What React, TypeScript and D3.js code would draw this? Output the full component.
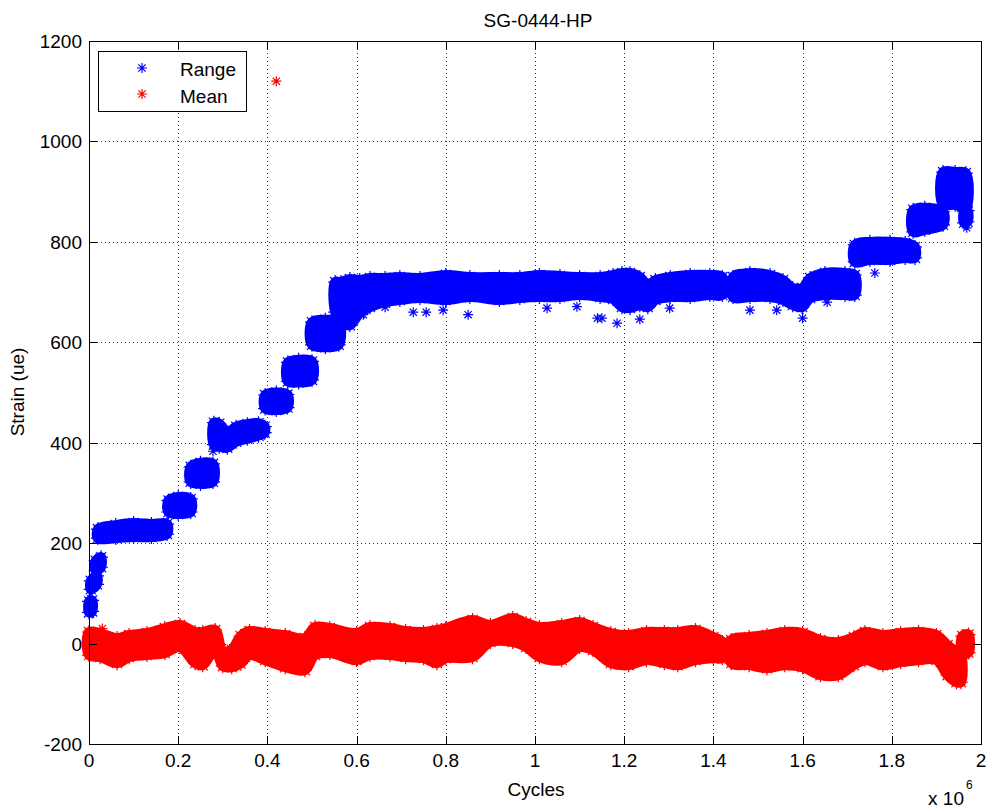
import React from 'react';
import * as d3 from 'd3';

// Range band (cycles in 1e6), marker-centre envelope; null = gap between blobs
const rangeCycles = [
  0.000, 0.007, null,
  0.004, 0.018, null,
  0.015, 0.027, null,
  0.020, 0.060, 0.100, 0.140, 0.175, null,
  0.178, 0.200, 0.228, null,
  0.228, 0.250, 0.278, null,
  0.280, 0.292, 0.310, 0.330, 0.355, 0.380, 0.394, null,
  0.395, 0.420, 0.445, null,
  0.446, 0.470, 0.500, null,
  0.500, 0.530, 0.560, null,
  0.552, 0.565, 0.585, 0.607, 0.630, 0.664, 0.697, 0.742, 0.800, 0.854, 0.920, 0.966, 1.010, 1.056, 1.100, 1.146, 1.175, 1.195, 1.213, 1.235, 1.253, 1.270, 1.303, 1.348, 1.392, 1.420, null,
  1.444, 1.482, 1.527, 1.556, 1.578, 1.599, 1.617, 1.650, 1.695, 1.717, null,
  1.717, 1.751, 1.796, 1.830, 1.852, null,
  1.848, 1.874, 1.915, null,
  1.915, 1.942, 1.966, null,
  1.962, 1.970
];
const rangeLow = [
  62, 64, null,
  108, 118, null,
  145, 152, null,
  210, 210, 212, 212, 218, null,
  262, 258, 262, null,
  322, 318, 322, null,
  396, 392, 390, 402, 408, 414, 420, null,
  468, 465, 470, null,
  522, 520, 525, null,
  595, 590, 595, null,
  660, 641, 634, 658, 670, 680, 684, 688, 684, 690, 684, 688, 690, 690, 694, 690, 686, 670, 668, 674, 670, 684, 690, 690, 694, 694, null,
  690, 690, 690, 684, 674, 670, 688, 694, 694, 694, null,
  760, 764, 764, 768, 768, null,
  820, 824, 834, null,
  874, 874, 868, null,
  838, 840
];
const rangeHigh = [
  84, 86, null,
  125, 135, null,
  165, 172, null,
  228, 236, 240, 238, 238, null,
  285, 292, 288, null,
  352, 360, 358, null,
  440, 438, 421, 432, 437, 439, 432, null,
  495, 500, 496, null,
  560, 565, 562, null,
  640, 645, 640, null,
  720, 720, 726, 724, 728, 728, 730, 728, 734, 730, 730, 730, 734, 732, 730, 730, 734, 738, 738, 730, 714, 724, 730, 734, 734, 730, null,
  730, 738, 734, 724, 708, 708, 728, 738, 738, 734, null,
  794, 800, 800, 798, 790, null,
  864, 868, 860, null,
  939, 939, 937, null,
  860, 862
];
const rangeOutCycles = [0.278, 0.615, 0.664, 0.727, 0.756, 0.794, 0.850, 1.027, 1.094, 1.140, 1.150, 1.184, 1.235, 1.302, 1.482, 1.542, 1.600, 1.655, 1.762, 1.968];
const rangeOutStrain = [383, 655, 670, 660, 660, 664, 655, 668, 671, 648, 648, 638, 646, 668, 664, 664, 648, 680, 738, 828];

// Mean band
const meanCycles = [
  0.000, 0.025, 0.063, 0.090, 0.130, 0.170, 0.204, 0.238, 0.255, 0.283,
  0.300, 0.320, 0.340, 0.360, 0.395, 0.440, 0.484, 0.507, 0.540, 0.600,
  0.630, 0.675, 0.710, 0.750, 0.780, 0.800, 0.860, 0.900, 0.950, 0.980,
  1.010, 1.060, 1.100, 1.130, 1.170, 1.210, 1.250, 1.290, 1.320, 1.360,
  1.400, 1.420, null,
  1.440, 1.480, 1.520, 1.560, 1.600, 1.640, 1.680, 1.715, 1.740, 1.780,
  1.820, 1.860, 1.900, 1.925, 1.945, 1.955, null,
  1.958, 1.972
];
const meanHigh = [
  23, 21, 11, 17, 21, 31, 37, 23, 23, 27,
  -15, -12, 15, 25, 21, 17, 11, 33, 31, 21,
  33, 31, 25, 23, 27, 31, 47, 37, 51, 41,
  33, 37, 43, 33, 21, 17, 23, 23, 23, 27,
  13, 3, null,
  7, 13, 17, 23, 21, 7, 3, 13, 23, 17,
  21, 23, 17, -3, -17, -23, null,
  15, 18
];
const meanLow = [
  -23, -27, -39, -27, -23, -19, -7, -39, -43, -13,
  -45, -47, -40, -23, -33, -47, -53, -23, -19, -33,
  -23, -23, -27, -29, -39, -29, -27, 3, 3, -7,
  -27, -33, -7, -13, -39, -43, -33, -39, -43, -33,
  -29, -29, null,
  -39, -43, -49, -43, -47, -63, -63, -43, -33, -43,
  -37, -33, -33, -63, -77, -77, null,
  -20, -18
];
const meanOutCycles = [0.030, 0.420];
const meanOutStrain = [30, 1120];

const xTicks = [0, 0.2, 0.4, 0.6, 0.8, 1, 1.2, 1.4, 1.6, 1.8, 2];
const yTicks = [-200, 0, 200, 400, 600, 800, 1000, 1200];

const W = 990;
const H = 809;
const plot = { left: 89, right: 981, top: 41, bottom: 744 };
const FONT = '"Liberation Sans", Arial, sans-serif';
const BLUE = '#0000ff';
const RED = '#ff0000';

const star = (x: number, y: number, r: number) => {
  const d = r * 0.72;
  return `M${x - r},${y}h${2 * r}M${x},${y - r}v${2 * r}M${x - d},${y - d}l${2 * d},${2 * d}M${x - d},${y + d}l${2 * d},${-2 * d}`;
};

// split parallel arrays into blobs at the null entries
const blobs = (cyc: any[], lo: any[], hi: any[]) => {
  const out: { c: number; lo: number; hi: number }[][] = [];
  let cur: { c: number; lo: number; hi: number }[] = [];
  cyc.forEach((c, i) => {
    if (c == null) {
      if (cur.length) out.push(cur);
      cur = [];
    } else cur.push({ c, lo: lo[i], hi: hi[i] });
  });
  if (cur.length) out.push(cur);
  return out;
};

const App = () => {
  const x = d3.scaleLinear().domain([0, 2]).range([plot.left, plot.right]);
  const y = d3.scaleLinear().domain([-200, 1200]).range([plot.bottom, plot.top]);

  // outline of a blob: upper edge left→right, lower edge right→left, closed smooth curve
  const outline = d3
    .line<[number, number]>()
    .x((d) => d[0])
    .y((d) => d[1])
    .curve(d3.curveCatmullRomClosed.alpha(0.5));

  const blobPath = (b: { c: number; lo: number; hi: number }[]) => {
    const top = b.map((d) => [x(d.c), y(d.hi)] as [number, number]);
    const bot = b.map((d) => [x(d.c), y(d.lo)] as [number, number]).reverse();
    return outline(top.concat(bot)) || '';
  };

  const series = [
    { name: 'Range', color: BLUE, parts: blobs(rangeCycles, rangeLow, rangeHigh), oc: rangeOutCycles, os: rangeOutStrain },
    { name: 'Mean', color: RED, parts: blobs(meanCycles, meanLow, meanHigh), oc: meanOutCycles, os: meanOutStrain },
  ];

  const edgeStars = (parts: any[][]) =>
    parts
      .flat()
      .map((d) => star(x(d.c), y(d.lo), 7) + star(x(d.c), y(d.hi), 7))
      .join('');

  return (
    <svg width={W} height={H} style={{ position: 'absolute', left: 0, top: 0, background: '#fff' }} fontFamily={FONT}>
      <rect x={0} y={0} width={W} height={H} fill="#fff" />

      {/* grid */}
      <g stroke="#333" strokeWidth={1} strokeDasharray="1,3">
        {xTicks.slice(1, -1).map((t) => (
          <line key={'gx' + t} x1={Math.round(x(t)) + 0.5} x2={Math.round(x(t)) + 0.5} y1={plot.top} y2={plot.bottom} />
        ))}
        {yTicks.slice(1, -1).map((t) => (
          <line key={'gy' + t} x1={plot.left} x2={plot.right} y1={Math.round(y(t)) + 0.5} y2={Math.round(y(t)) + 0.5} />
        ))}
      </g>

      {/* data */}
      {series.map((s) => (
        <g key={s.name}>
          {s.parts.map((b, i) => (
            <path key={i} d={blobPath(b)} fill={s.color} stroke={s.color} strokeWidth={10} strokeLinejoin="round" />
          ))}
          <path d={edgeStars(s.parts)} fill="none" stroke={s.color} strokeWidth={1.2} />
          <path d={s.oc.map((c, i) => star(x(c), y(s.os[i]), 5)).join('')} fill="none" stroke={s.color} strokeWidth={1.2} />
        </g>
      ))}

      {/* axes box + ticks */}
      <rect x={plot.left + 0.5} y={plot.top + 0.5} width={plot.right - plot.left} height={plot.bottom - plot.top} fill="none" stroke="#000" strokeWidth={1} />
      <g stroke="#000" strokeWidth={1}>
        {xTicks.map((t) => (
          <g key={'tx' + t}>
            <line x1={Math.round(x(t)) + 0.5} x2={Math.round(x(t)) + 0.5} y1={plot.bottom} y2={plot.bottom - 8} />
            <line x1={Math.round(x(t)) + 0.5} x2={Math.round(x(t)) + 0.5} y1={plot.top} y2={plot.top + 8} />
          </g>
        ))}
        {yTicks.map((t) => (
          <g key={'ty' + t}>
            <line x1={plot.left} x2={plot.left + 8} y1={Math.round(y(t)) + 0.5} y2={Math.round(y(t)) + 0.5} />
            <line x1={plot.right} x2={plot.right - 8} y1={Math.round(y(t)) + 0.5} y2={Math.round(y(t)) + 0.5} />
          </g>
        ))}
      </g>

      {/* tick labels */}
      <g fontSize={19} fill="#000">
        {xTicks.map((t) => (
          <text key={'lx' + t} x={x(t)} y={767} textAnchor="middle">{String(t)}</text>
        ))}
        {yTicks.map((t) => (
          <text key={'ly' + t} x={plot.left - 7} y={y(t) + 7} textAnchor="end">{String(t)}</text>
        ))}
      </g>

      {/* titles */}
      <text x={538} y={27} fontSize={19} textAnchor="middle">SG-0444-HP</text>
      <text x={536} y={796} fontSize={19} textAnchor="middle">Cycles</text>
      <text transform="translate(24,392) rotate(-90)" fontSize={19} textAnchor="middle">Strain (ue)</text>
      <text x={964} y={805} fontSize={19} textAnchor="end">x 10</text>
      <text x={966} y={789} fontSize={12}>6</text>

      {/* legend */}
      <g>
        <rect x={98.5} y={51.5} width={148} height={60} fill="#fff" stroke="#000" strokeWidth={1} />
        <path d={star(142, 68, 5)} stroke={BLUE} strokeWidth={1.2} fill="none" />
        <path d={star(142, 94, 5)} stroke={RED} strokeWidth={1.2} fill="none" />
        <text x={180} y={76} fontSize={19}>Range</text>
        <text x={180} y={103} fontSize={19}>Mean</text>
      </g>
    </svg>
  );
};

export default App;
